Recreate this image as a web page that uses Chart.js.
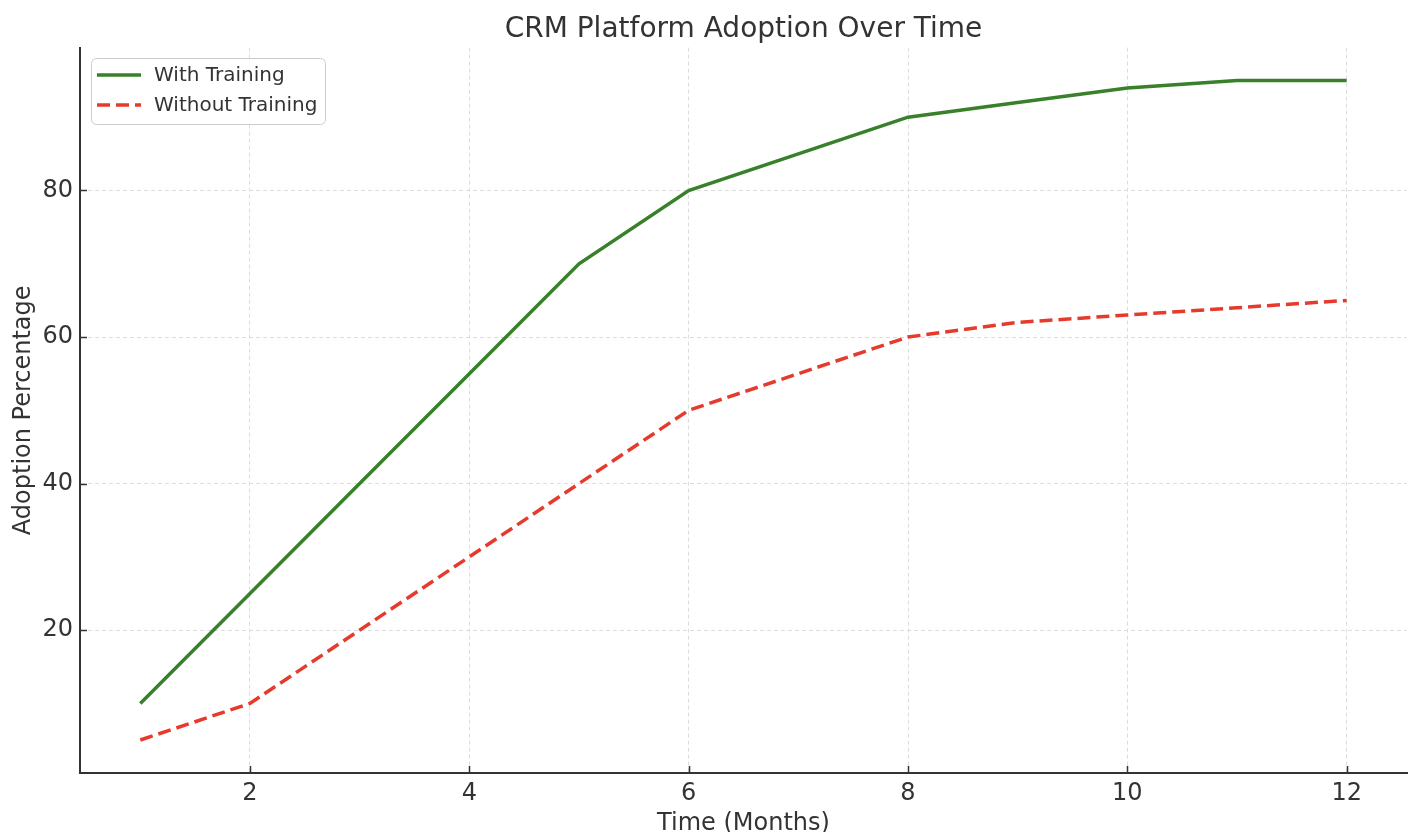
<!DOCTYPE html>
<html>
<head>
<meta charset="utf-8">
<title>CRM Platform Adoption Over Time</title>
<script src="https://cdn.jsdelivr.net/npm/chart.js@4.4.0/dist/chart.umd.min.js"></script>
<style>
  html, body { margin: 0; padding: 0; background: #fff; }
</style>
</head>
<body>
<canvas id="chart" width="1413" height="832"></canvas>
<script>
// data
var months = [1, 2, 3, 4, 5, 6, 7, 8, 9, 10, 11, 12];
var withTraining = [10, 25, 40, 55, 70, 80, 85, 90, 92, 94, 95, 95];
var withoutTraining = [5, 10, 20, 30, 40, 50, 55, 60, 62, 63, 64, 65];
var xTicks = [2, 4, 6, 8, 10, 12];
var yTicks = [20, 40, 60, 80];

var FONT = 'DejaVu Sans';
var TEXT = '#333333';

// matplotlib-style ticks pointing into the plot
var innerTicks = {
  id: 'innerTicks',
  afterDatasetsDraw: function (chart) {
    var ctx = chart.ctx;
    var area = chart.chartArea;
    var len = 7;
    ctx.save();
    ctx.strokeStyle = '#333333';
    ctx.lineWidth = 1.5;
    ctx.beginPath();
    xTicks.forEach(function (v) {
      var px = Math.round(chart.scales.x.getPixelForValue(v)) + 0.5;
      ctx.moveTo(px, area.bottom);
      ctx.lineTo(px, area.bottom - len);
    });
    yTicks.forEach(function (v) {
      var py = Math.round(chart.scales.y.getPixelForValue(v)) + 0.5;
      ctx.moveTo(area.left, py);
      ctx.lineTo(area.left + len, py);
    });
    ctx.stroke();
    ctx.restore();
  }
};

// legend drawn inside the plot, top-left like matplotlib
var innerLegend = {
  id: 'innerLegend',
  afterDraw: function (chart) {
    var ctx = chart.ctx;
    var x = 91, y = 58, w = 234, h = 66, r = 5;
    ctx.save();
    ctx.beginPath();
    ctx.roundRect(x + 0.5, y + 0.5, w, h, r);
    ctx.fillStyle = 'rgba(255,255,255,0.85)';
    ctx.fill();
    ctx.strokeStyle = '#cccccc';
    ctx.lineWidth = 1;
    ctx.stroke();

    ctx.font = '20px "' + FONT + '"';
    ctx.textBaseline = 'middle';
    chart.data.datasets.forEach(function (ds, i) {
      var ly = y + 17 + i * 30;
      ctx.beginPath();
      ctx.setLineDash(ds.borderDash || []);
      ctx.strokeStyle = ds.borderColor;
      ctx.lineWidth = ds.borderWidth;
      ctx.moveTo(x + 6, ly);
      ctx.lineTo(x + 50, ly);
      ctx.stroke();
      ctx.setLineDash([]);
      ctx.fillStyle = TEXT;
      ctx.fillText(ds.label, x + 63, ly + 1);
    });
    ctx.restore();
  }
};

var ctx = document.getElementById('chart').getContext('2d');
var chart = new Chart(ctx, {
  type: 'line',
  data: {
    datasets: [{
      label: 'With Training',
      data: months.map(function (m, i) { return { x: m, y: withTraining[i] }; }),
      borderColor: '#38802a',
      borderWidth: 3.5,
      pointRadius: 0,
      tension: 0,
      fill: false
    },
    {
      label: 'Without Training',
      data: months.map(function (m, i) { return { x: m, y: withoutTraining[i] }; }),
      borderColor: '#e63a2c',
      borderWidth: 3.5,
      borderDash: [13, 6],
      pointRadius: 0,
      tension: 0,
      fill: false
    }]
  },
  options: {
    responsive: false,
    animation: false,
    devicePixelRatio: 1,
    layout: { padding: { left: 9, right: 6, top: 0, bottom: 0 } },
    plugins: {
      legend: { display: false },
      tooltip: { enabled: false },
      title: {
        display: true,
        fullSize: false,
        text: 'CRM Platform Adoption Over Time',
        color: TEXT,
        font: { family: FONT, size: 28, weight: 'normal' },
        padding: { top: 13, bottom: 1 }
      }
    },
    scales: {
      x: {
        type: 'linear',
        min: 0.45,
        max: 12.55,
        afterBuildTicks: function (scale) {
          scale.ticks = xTicks.map(function (v) { return { value: v }; });
        },
        afterFit: function (scale) { scale.height = 59; },
        ticks: {
          color: TEXT,
          font: { family: FONT, size: 24 },
          padding: 6,
          maxRotation: 0
        },
        grid: {
          color: '#dcdcdc',
          lineWidth: 1,
          drawTicks: false
        },
        border: { display: true, color: '#333333', width: 2, dash: [4, 3] },
        title: {
          display: true,
          text: 'Time (Months)',
          color: TEXT,
          font: { family: FONT, size: 24 },
          padding: { top: 0, bottom: -6 }
        }
      },
      y: {
        type: 'linear',
        min: 0.5,
        max: 99.5,
        afterBuildTicks: function (scale) {
          scale.ticks = yTicks.map(function (v) { return { value: v }; });
        },
        afterFit: function (scale) { scale.width = 71; },
        ticks: {
          color: TEXT,
          font: { family: FONT, size: 24 },
          padding: 7
        },
        grid: {
          color: '#dcdcdc',
          lineWidth: 1,
          drawTicks: false
        },
        border: { display: true, color: '#333333', width: 2, dash: [4, 3] },
        title: {
          display: true,
          text: 'Adoption Percentage',
          color: TEXT,
          font: { family: FONT, size: 24 },
          padding: { top: 0, bottom: 0 }
        }
      }
    }
  },
  plugins: [innerTicks, innerLegend]
});
</script>
</body>
</html>
